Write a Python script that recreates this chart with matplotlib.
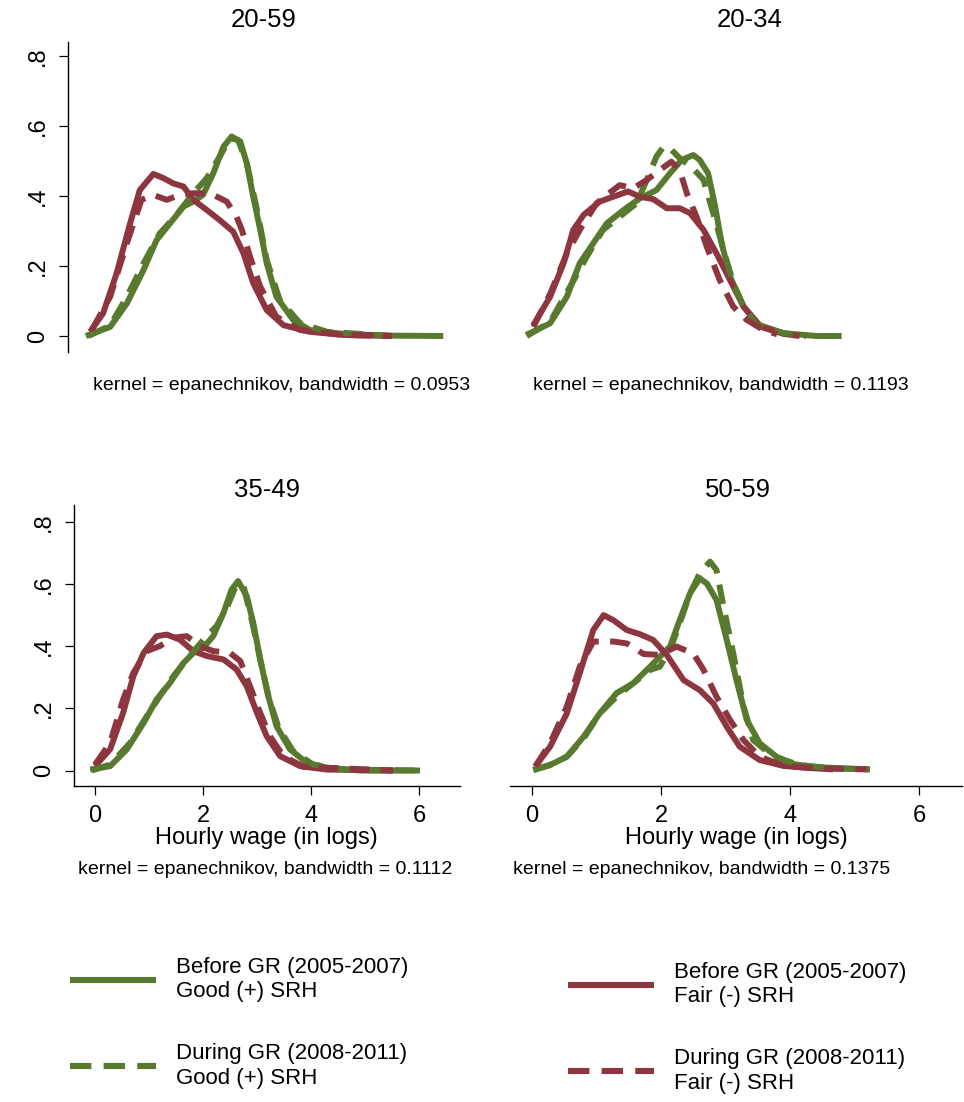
import numpy as np
import matplotlib
matplotlib.use("Agg")
import matplotlib.pyplot as plt
from matplotlib.lines import Line2D

plt.rcParams['font.family'] = ['Liberation Sans', 'DejaVu Sans']

GREEN = '#587a2f'
RED = '#8e3640'

# ---- data (x = log hourly wage, y = density) ----
# 20-59
x2059_gb = [-0.17, 0.28, 0.59, 0.90, 1.14, 1.39, 1.64, 1.82, 2.0, 2.19, 2.38, 2.53, 2.69, 2.81, 2.93, 3.06, 3.18, 3.36, 3.67, 3.98, 4.6, 5.5, 6.45]
y2059_gb = [0.0, 0.026, 0.093, 0.189, 0.274, 0.322, 0.37, 0.384, 0.403, 0.465, 0.541, 0.57, 0.556, 0.494, 0.398, 0.303, 0.208, 0.112, 0.046, 0.017, 0.006, 0.001, 0.0]
x2059_gd = [-0.12, 0.28, 0.59, 0.90, 1.2, 1.51, 1.82, 2.07, 2.31, 2.5, 2.65, 2.81, 3.0, 3.18, 3.42, 3.8, 4.3, 5.5]
y2059_gd = [0.0, 0.03, 0.112, 0.208, 0.293, 0.346, 0.408, 0.451, 0.513, 0.565, 0.56, 0.494, 0.36, 0.217, 0.103, 0.036, 0.012, 0.0]
x2059_rb = [-0.09, 0.15, 0.40, 0.65, 0.83, 1.08, 1.27, 1.45, 1.64, 1.82, 2.07, 2.31, 2.56, 2.75, 2.93, 3.18, 3.49, 3.98, 4.6, 5.5]
y2059_rb = [0.012, 0.065, 0.179, 0.322, 0.417, 0.463, 0.451, 0.436, 0.427, 0.389, 0.36, 0.331, 0.298, 0.236, 0.151, 0.074, 0.031, 0.012, 0.003, 0.0]
x2059_rd = [-0.06, 0.28, 0.59, 0.86, 1.08, 1.33, 1.57, 1.82, 2.13, 2.44, 2.62, 2.72, 2.87, 3.06, 3.36, 3.80, 4.6, 5.5]
y2059_rd = [0.017, 0.112, 0.265, 0.389, 0.403, 0.389, 0.403, 0.408, 0.408, 0.384, 0.341, 0.303, 0.227, 0.141, 0.055, 0.017, 0.003, 0.0]

# 20-34
x2034_gb = [-0.09, 0.28, 0.54, 0.74, 0.95, 1.16, 1.42, 1.67, 1.93, 2.14, 2.32, 2.5, 2.6, 2.73, 2.84, 2.94, 3.07, 3.28, 3.53, 3.9, 4.41, 4.8]
y2034_gb = [0.003, 0.036, 0.112, 0.208, 0.265, 0.322, 0.36, 0.393, 0.417, 0.465, 0.503, 0.517, 0.503, 0.465, 0.37, 0.265, 0.17, 0.084, 0.031, 0.008, 0.0, 0.0]
x2034_gd = [-0.08, 0.28, 0.59, 0.85, 1.1, 1.36, 1.62, 1.78, 1.93, 2.04, 2.14, 2.29, 2.47, 2.66, 2.81, 2.97, 3.12, 3.28, 3.48, 3.9, 4.25]
y2034_gd = [0.0, 0.04, 0.141, 0.227, 0.303, 0.341, 0.379, 0.446, 0.513, 0.541, 0.536, 0.508, 0.484, 0.446, 0.351, 0.246, 0.151, 0.084, 0.031, 0.008, 0.0]
x2034_rb = [0.02, 0.28, 0.49, 0.64, 0.8, 1.05, 1.26, 1.49, 1.67, 1.88, 2.09, 2.29, 2.45, 2.66, 2.86, 3.07, 3.28, 3.53, 3.9, 4.15]
y2034_rb = [0.031, 0.112, 0.208, 0.303, 0.346, 0.384, 0.398, 0.413, 0.398, 0.391, 0.365, 0.365, 0.351, 0.303, 0.236, 0.16, 0.084, 0.027, 0.006, 0.0]
x2034_rd = [0.02, 0.28, 0.54, 0.74, 1.0, 1.16, 1.36, 1.57, 1.78, 1.98, 2.16, 2.29, 2.40, 2.55, 2.71, 2.91, 3.12, 3.33, 3.59, 3.8]
y2034_rd = [0.026, 0.12, 0.236, 0.303, 0.379, 0.403, 0.431, 0.422, 0.446, 0.474, 0.498, 0.474, 0.408, 0.341, 0.255, 0.16, 0.084, 0.046, 0.017, 0.005]

# 35-49
x3549_gb = [-0.09, 0.28, 0.59, 0.9, 1.14, 1.39, 1.64, 1.82, 2.0, 2.19, 2.38, 2.53, 2.65, 2.81, 2.93, 3.06, 3.21, 3.36, 3.61, 3.92, 4.29, 4.91, 6.02]
y3549_gb = [0.003, 0.014, 0.068, 0.153, 0.228, 0.282, 0.346, 0.378, 0.394, 0.432, 0.507, 0.582, 0.609, 0.561, 0.475, 0.357, 0.239, 0.143, 0.068, 0.025, 0.009, 0.0, 0.0]
x3549_gd = [-0.06, 0.28, 0.65, 0.96, 1.2, 1.45, 1.7, 2.04, 2.25, 2.44, 2.62, 2.75, 2.9, 3.06, 3.21, 3.4, 3.67, 4.04, 4.6, 6.02]
y3549_gd = [0.0, 0.019, 0.089, 0.175, 0.239, 0.303, 0.357, 0.427, 0.464, 0.523, 0.598, 0.593, 0.486, 0.357, 0.239, 0.137, 0.062, 0.019, 0.003, 0.0]
x3549_rb = [0.0, 0.28, 0.52, 0.71, 0.9, 1.14, 1.33, 1.57, 1.82, 2.07, 2.38, 2.62, 2.81, 3.0, 3.18, 3.43, 3.8, 4.29, 5.52]
y3549_rb = [0.014, 0.068, 0.185, 0.303, 0.378, 0.432, 0.437, 0.421, 0.384, 0.368, 0.357, 0.325, 0.271, 0.185, 0.11, 0.046, 0.014, 0.003, 0.0]
x3549_rd = [0.0, 0.28, 0.52, 0.71, 0.96, 1.2, 1.45, 1.7, 1.94, 2.19, 2.5, 2.69, 2.87, 3.06, 3.24, 3.49, 3.86, 5.52]
y3549_rd = [0.019, 0.089, 0.228, 0.314, 0.384, 0.4, 0.427, 0.432, 0.4, 0.384, 0.378, 0.352, 0.271, 0.185, 0.11, 0.046, 0.012, 0.0]

# 50-59
x5059_gb = [0.02, 0.28, 0.54, 0.8, 1.05, 1.31, 1.57, 1.83, 1.98, 2.14, 2.29, 2.45, 2.6, 2.71, 2.86, 3.02, 3.17, 3.33, 3.53, 3.79, 4.05, 4.41, 5.24]
y5059_gb = [0.0, 0.016, 0.043, 0.107, 0.182, 0.247, 0.279, 0.332, 0.364, 0.397, 0.482, 0.568, 0.616, 0.6, 0.547, 0.418, 0.289, 0.161, 0.086, 0.043, 0.019, 0.009, 0.002]
x5059_gd = [0.02, 0.28, 0.54, 0.8, 1.05, 1.31, 1.57, 1.83, 1.98, 2.14, 2.29, 2.45, 2.6, 2.76, 2.86, 2.97, 3.12, 3.28, 3.43, 3.74, 4.15, 4.67, 5.24]
y5059_gd = [0.0, 0.016, 0.043, 0.102, 0.182, 0.236, 0.279, 0.322, 0.332, 0.386, 0.472, 0.568, 0.632, 0.67, 0.643, 0.525, 0.375, 0.204, 0.096, 0.043, 0.016, 0.005, 0.002]
x5059_rb = [0.05, 0.28, 0.54, 0.74, 0.95, 1.11, 1.26, 1.47, 1.67, 1.88, 2.09, 2.35, 2.6, 2.81, 3.02, 3.22, 3.53, 3.9, 4.41, 4.67]
y5059_rb = [0.011, 0.075, 0.182, 0.311, 0.45, 0.498, 0.482, 0.45, 0.437, 0.418, 0.37, 0.289, 0.257, 0.214, 0.139, 0.075, 0.032, 0.013, 0.005, 0.002]
x5059_rd = [0.05, 0.28, 0.54, 0.74, 0.95, 1.26, 1.47, 1.73, 1.98, 2.24, 2.5, 2.66, 2.86, 3.07, 3.28, 3.53, 3.9, 4.41, 5.19]
y5059_rd = [0.011, 0.086, 0.204, 0.332, 0.413, 0.413, 0.407, 0.373, 0.37, 0.397, 0.375, 0.322, 0.236, 0.161, 0.096, 0.043, 0.013, 0.005, 0.002]

titles = ['20-59', '20-34', '35-49', '50-59']
bandwidths = ['0.0953', '0.1193', '0.1112', '0.1375']
legend_labels = ['Before GR (2005-2007)\nGood (+) SRH', 'During GR (2008-2011)\nGood (+) SRH',
                 'Before GR (2005-2007)\nFair (-) SRH', 'During GR (2008-2011)\nFair (-) SRH']
xticks = [0, 2, 4, 6]
yticks = [0, 0.2, 0.4, 0.6, 0.8]
ytick_labels = ['0', '.2', '.4', '.6', '.8']

W, H = 964, 1102
fig = plt.figure(figsize=(W / 100, H / 100), dpi=100)


def px_axes(left, top, right, bottom):
    return fig.add_axes([left / W, 1 - bottom / H, (right - left) / W, (bottom - top) / H])


def ftext(x, y, s, **kw):
    fig.text(x / W, 1 - y / H, s, **kw)


LW = 4.3
DASH = (3.3, 1.9)


def draw(ax, gb, gd, rb, rd):
    ax.plot(*gb, color=GREEN, lw=LW, solid_joinstyle='round', solid_capstyle='butt')
    ax.plot(*rb, color=RED, lw=LW, solid_joinstyle='round', solid_capstyle='butt')
    ax.plot(*gd, color=GREEN, lw=LW, dashes=DASH, dash_capstyle='butt', dash_joinstyle='round')
    ax.plot(*rd, color=RED, lw=LW, dashes=DASH, dash_capstyle='butt', dash_joinstyle='round')
    for s in ax.spines.values():
        s.set_visible(False)
    ax.set_xticks([])
    ax.set_yticks([])
    ax.patch.set_alpha(0)


def yaxis(ax):
    ax.spines['left'].set_visible(True)
    ax.spines['left'].set_linewidth(1.0)
    ax.set_yticks(yticks)
    ax.set_yticklabels(ytick_labels, rotation=90, va='center', fontsize=17)
    ax.tick_params(axis='y', length=6.5, width=0.9, pad=7)


def xaxis(ax):
    ax.spines['bottom'].set_visible(True)
    ax.spines['bottom'].set_linewidth(1.0)
    ax.set_xticks(xticks)
    ax.set_xticklabels([str(t) for t in xticks], fontsize=17)
    ax.tick_params(axis='x', length=6.5, width=0.9, pad=7)


# top-left 20-59
ax1 = px_axes(68, 42, 460, 352)
draw(ax1, (x2059_gb, y2059_gb), (x2059_gd, y2059_gd), (x2059_rb, y2059_rb), (x2059_rd, y2059_rd))
ax1.set_xlim((68 - 95) / 54, (460 - 95) / 54)
ax1.set_ylim(-16 / 350, 294 / 350)
yaxis(ax1)

# top-right 20-34
ax2 = px_axes(510, 42, 962, 352)
draw(ax2, (x2034_gb, y2034_gb), (x2034_gd, y2034_gd), (x2034_rb, y2034_rb), (x2034_rd, y2034_rd))
ax2.set_xlim((510 - 532) / 64.5, (962 - 532) / 64.5)
ax2.set_ylim(-16 / 350, 294 / 350)

# bottom-left 35-49
ax3 = px_axes(74, 505, 460, 786)
draw(ax3, (x3549_gb, y3549_gb), (x3549_gd, y3549_gd), (x3549_rb, y3549_rb), (x3549_rd, y3549_rd))
ax3.set_xlim((74 - 95) / 54, (460 - 95) / 54)
ax3.set_ylim(-15.5 / 311, 265.5 / 311)
yaxis(ax3)
xaxis(ax3)

# bottom-right 50-59
ax4 = px_axes(510, 505, 962, 786)
draw(ax4, (x5059_gb, y5059_gb), (x5059_gd, y5059_gd), (x5059_rb, y5059_rb), (x5059_rd, y5059_rd))
ax4.set_xlim((510 - 532) / 64.5, (962 - 532) / 64.5)
ax4.set_ylim(-16 / 311, 265 / 311)
xaxis(ax4)

# titles, axis titles and notes
ftext(264, 20, titles[0], ha='center', va='center', fontsize=18.5)
ftext(750, 20, titles[1], ha='center', va='center', fontsize=18.5)
ftext(267, 490, titles[2], ha='center', va='center', fontsize=18.5)
ftext(738, 490, titles[3], ha='center', va='center', fontsize=18.5)
ftext(266, 838, 'Hourly wage (in logs)', ha='center', va='center', fontsize=17)
ftext(736, 838, 'Hourly wage (in logs)', ha='center', va='center', fontsize=17)
ftext(93, 386, 'kernel = epanechnikov, bandwidth = ' + bandwidths[0], ha='left', va='center', fontsize=14)
ftext(533, 386, 'kernel = epanechnikov, bandwidth = ' + bandwidths[1], ha='left', va='center', fontsize=14)
ftext(78, 870, 'kernel = epanechnikov, bandwidth = ' + bandwidths[2], ha='left', va='center', fontsize=14)
ftext(513, 870, 'kernel = epanechnikov, bandwidth = ' + bandwidths[3], ha='left', va='center', fontsize=14)

# legend
LLW = 4.4
h_gb = Line2D([], [], color=GREEN, lw=LLW, solid_capstyle='butt')
h_gd = Line2D([], [], color=GREEN, lw=LLW, dashes=(3.5, 2.0), dash_capstyle='butt')
h_rb = Line2D([], [], color=RED, lw=LLW, solid_capstyle='butt')
h_rd = Line2D([], [], color=RED, lw=LLW, dashes=(3.5, 2.0), dash_capstyle='butt')
common = dict(frameon=False, fontsize=16, handlelength=3.85, handletextpad=0.9,
              labelspacing=1.85, borderpad=0, borderaxespad=0, loc='upper left')
leg1 = fig.legend([h_gb, h_gd], legend_labels[:2], bbox_to_anchor=(70 / W, 1 - 957 / H), **common)
leg2 = fig.legend([h_rb, h_rd], legend_labels[2:], bbox_to_anchor=(568 / W, 1 - 962 / H), **common)
for leg in (leg1, leg2):
    for t in leg.get_texts():
        t.set_linespacing(1.2)

fig.savefig('out.png', dpi=100, facecolor='white')
